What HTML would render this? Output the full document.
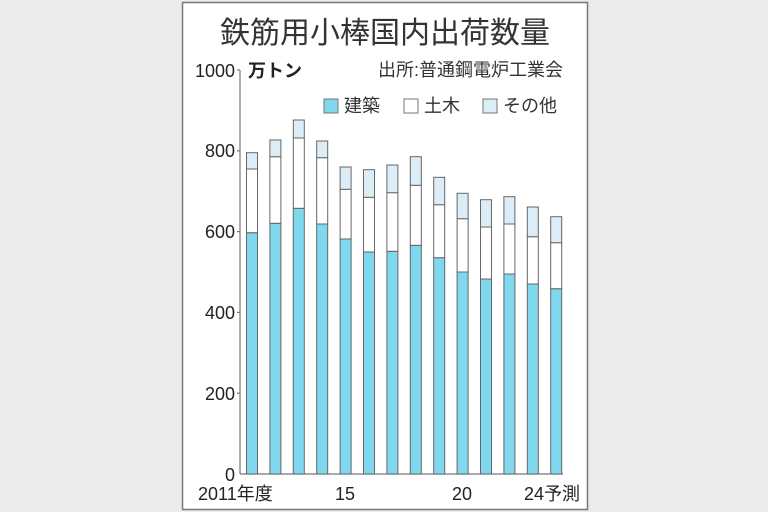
<!DOCTYPE html>
<html><head><meta charset="utf-8"><style>
body{margin:0;background:#ebebeb;}
svg{display:block;font-family:"Liberation Sans","Noto Sans CJK JP",sans-serif;}
</style></head><body>
<svg width="768" height="512" viewBox="0 0 768 512">
<rect x="0" y="0" width="768" height="512" fill="#ebebeb"/>
<rect x="182.5" y="2.5" width="405" height="507" fill="#fff" stroke="#777" stroke-width="1.5"/>
<text x="385" y="43" font-size="30" text-anchor="middle" fill="#333">鉄筋用小棒国内出荷数量</text>
<text x="248" y="77" font-size="18" fill="#222" font-weight="bold">万トン</text>
<text x="563" y="76" font-size="18" fill="#333" text-anchor="end">出所:普通鋼電炉工業会</text>
<rect x="324" y="99" width="14" height="14" fill="#7fd8ee" stroke="#777"/>
<text x="344" y="112" font-size="18" fill="#333">建築</text>
<rect x="404" y="99" width="14" height="14" fill="#fff" stroke="#777"/>
<text x="424" y="112" font-size="18" fill="#333">土木</text>
<rect x="483" y="99" width="14" height="14" fill="#dcedf8" stroke="#777"/>
<text x="503" y="112" font-size="18" fill="#333">その他</text>
<g font-size="18" fill="#222" text-anchor="end">
<text x="235" y="77">1000</text><text x="235" y="157">800</text><text x="235" y="238">600</text>
<text x="235" y="319">400</text><text x="235" y="400">200</text><text x="235" y="481">0</text>
</g>
<g stroke="#777" stroke-width="1.2">
<line x1="240" y1="70" x2="240" y2="474"/><line x1="240" y1="474" x2="563" y2="474"/>
<line x1="237" y1="70" x2="240" y2="70"/><line x1="237" y1="150.8" x2="240" y2="150.8"/>
<line x1="237" y1="231.6" x2="240" y2="231.6"/><line x1="237" y1="312.4" x2="240" y2="312.4"/>
<line x1="237" y1="393.2" x2="240" y2="393.2"/>
</g>
<g id="bars" stroke="#666" stroke-width="1"></g>
<g font-size="18" fill="#222">
<text x="198" y="500">2011年度</text>
<text x="335" y="500">15</text>
<text x="452" y="500">20</text>
<text x="524" y="500">24予測</text>
</g>
</svg>
<script>
var d=[[152.7,169,232.7],[140,156.7,223.3],[120,138,208.3],[141,157.7,224],[167,189.3,239],[169.7,197.3,252],[165,192.7,251.3],[156.7,185.3,245.3],[177.3,204.7,257.7],[193.3,218.7,272],[199.7,227,279],[196.7,224,274],[207,236.7,284],[216.7,242.7,288.7]];
var g=document.getElementById('bars'),s='';
d.forEach(function(v,i){var x=246.5+i*23.4,w=11;
s+='<rect x="'+x+'" y="'+v[2]+'" width="'+w+'" height="'+(474-v[2])+'" fill="#7fd8ee"/>';
s+='<rect x="'+x+'" y="'+v[1]+'" width="'+w+'" height="'+(v[2]-v[1])+'" fill="#fff"/>';
s+='<rect x="'+x+'" y="'+v[0]+'" width="'+w+'" height="'+(v[1]-v[0])+'" fill="#dcedf8"/>';});
g.innerHTML=s;
</script>
</body></html>
